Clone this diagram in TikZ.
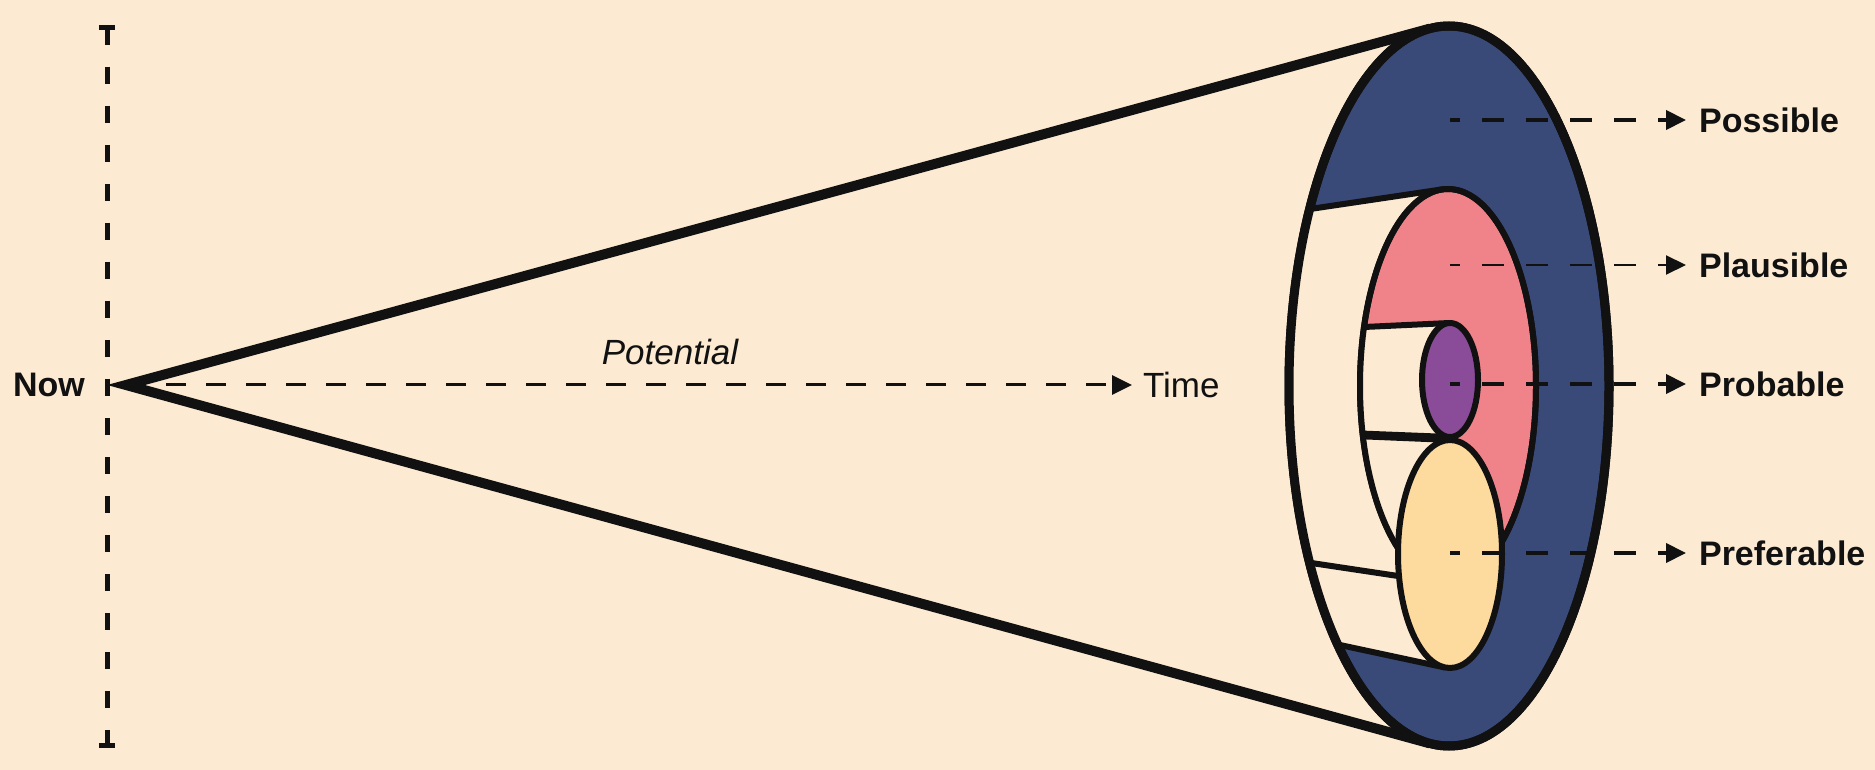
\documentclass[tikz,border=0pt]{standalone}
\usepackage{fontspec}
\setmainfont{Liberation Sans}
\usetikzlibrary{arrows.meta}
\definecolor{bg}{HTML}{FCEAD3}
\definecolor{navy}{HTML}{3A4A78}
\definecolor{pinkc}{HTML}{EF8389}
\definecolor{purp}{HTML}{8A4C98}
\definecolor{yell}{HTML}{FDDA9E}
\definecolor{ink}{HTML}{111111}
\begin{document}
\begin{tikzpicture}[x=0.5pt,y=-0.5pt,
  lbl/.style={font=\bfseries\fontsize{17}{21}\selectfont, text=ink},
  axl/.style={font=\fontsize{17.5}{21}\selectfont, text=ink},
  rim/.style={draw=ink, line width=3pt},
  wall/.style={draw=ink, line width=3pt},
  tip/.style={-{Triangle[length=10pt,width=9.5pt]}},
  ptr/.style={draw=ink, line width=2pt, dash pattern=on 11pt off 11pt, dash phase=6pt, tip, shorten >=3pt},
]
\useasboundingbox (0,0) rectangle (1875,770);
\fill[bg] (0,0) rectangle (1875,770);

% key points
\coordinate (A)  at (126,385);
\coordinate (E1) at (1449,386);
\coordinate (T1) at (1430,28.6);
\coordinate (B1) at (1430,743.4);
\coordinate (Pc) at (1448,386);
\coordinate (Pt) at (1442,189.4);
\coordinate (Pb) at (1442,582.6);
\coordinate (Uc) at (1450,380);
\coordinate (Ut) at (1449.4,323);
\coordinate (Ub) at (1449.4,437);
\coordinate (Yc) at (1450,554);
\coordinate (Yt) at (1451,440);
\coordinate (Yb) at (1445,667.5);

% vertical "now" line
\coordinate (VT) at (107,28);
\coordinate (VB) at (107,745);
\coordinate (VTl) at (99,28);
\coordinate (VTr) at (115,28);
\coordinate (VBl) at (99,745);
\coordinate (VBr) at (115,745);
\draw[ink, line width=2.5pt, dash pattern=on 8.5pt off 11pt] (VT) -- (VB);
\draw[ink, line width=2.5pt] (VTl) -- (VTr) (VBl) -- (VBr);

% labels on the left
\node[lbl, anchor=east] (now) at (92,385) {Now};
\node[axl, anchor=west] (time) at (1136,385) {Time};
\node[axl, anchor=center] (potential) at (670,352) {\itshape Potential};

% time arrow
\draw[ink, line width=1.5pt, dash pattern=on 10pt off 10pt, tip, shorten >=2pt] (A) -- (time.west);

% cone
\draw[ink, line width=5pt, line join=miter, miter limit=20] (T1) -- (A) -- (B1);

% outer rim (Possible)
\filldraw[fill=navy, draw=ink, line width=4.5pt] (E1) ellipse [x radius=160, y radius=360];
\begin{scope}
  \clip (E1) ellipse [x radius=160, y radius=360];
  \fill[bg] (A) -- (Pt) -- (Pb) -- cycle;
  \fill[bg] (A) -- (Yt) -- (Yb) -- cycle;
  \draw[wall] (A) -- (Pt);
  \draw[wall] (A) -- (Pb);
  \draw[wall] (A) -- (Yb);
\end{scope}
\draw[ink, line width=4.5pt] (E1) ellipse [x radius=160, y radius=360];

% Plausible
\filldraw[fill=pinkc, rim] (Pc) ellipse [x radius=88, y radius=197];
\begin{scope}
  \clip (Pc) ellipse [x radius=88, y radius=197];
  \fill[bg] (A) -- (Ut) -- (Ub) -- cycle;
  \fill[bg] (A) -- (Yt) -- (Yb) -- cycle;
  \draw[wall] (A) -- (Ut);
  \draw[wall] (A) -- (Ub);
  \draw[wall] (A) -- (Yt);
\end{scope}
\draw[rim] (Pc) ellipse [x radius=88, y radius=197];

% Probable and Preferable
\filldraw[fill=purp, rim] (Uc) ellipse [x radius=28, y radius=57];
\filldraw[fill=yell, rim] (Yc) ellipse [x radius=52, y radius=114];

% right labels
\node[lbl, anchor=west] (possible)   at (1692,120) {Possible};
\node[lbl, anchor=west] (plausible)  at (1692,265) {Plausible};
\node[lbl, anchor=west] (probable)   at (1692,384) {Probable};
\node[lbl, anchor=west] (preferable) at (1692,553) {Preferable};

\coordinate (s1) at (1450,120);
\coordinate (s2) at (1450,265);
\coordinate (s3) at (1450,384);
\coordinate (s4) at (1450,553);
\draw[ptr] (s1) -- (possible.west);
\draw[ptr, line width=1pt] (s2) -- (plausible.west);
\draw[ptr] (s3) -- (probable.west);
\draw[ptr] (s4) -- (preferable.west);
\end{tikzpicture}
\end{document}
